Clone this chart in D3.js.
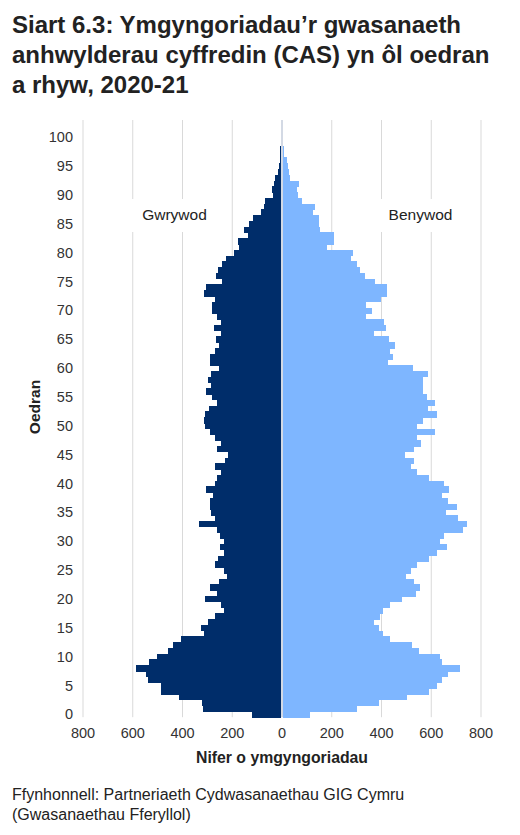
<!DOCTYPE html>
<html>
<head>
<meta charset="utf-8">
<script src="https://cdn.jsdelivr.net/npm/d3@7"></script>
<style>
  body { margin: 0; background: #fff; }
  svg { font-family: "Liberation Sans", Arial, sans-serif; }
  .bar { shape-rendering: crispEdges; }
</style>
</head>
<body>
<div id="chart"></div>
<script>
// ages 0..100
var ages = d3.range(0, 101);

// Gwrywod (male), counts by age 0..100
var male = [119, 317, 321, 416, 485, 488, 539, 548, 587, 535,
  502, 459, 440, 405, 312, 324, 298, 270, 234, 247,
  310, 261, 288, 254, 221, 234, 268, 258, 234, 250,
  234, 250, 261, 334, 270, 285, 288, 288, 278, 305,
  270, 261, 247, 268, 230, 218, 261, 247, 270, 288,
  310, 312, 310, 294, 261, 281, 304, 285, 298, 285,
  254, 291, 288, 268, 254, 264, 247, 272, 247, 261,
  281, 281, 268, 314, 305, 241, 267, 257, 241, 225,
  194, 171, 177, 136, 154, 134, 116, 83, 71, 67,
  36, 40, 33, 29, 17, 13, 7, 9, 8, 2,
  5];

// Benywod (female), counts by age 0..100
var female = [111, 301, 388, 502, 589, 622, 642, 666, 716, 642,
  635, 549, 522, 435, 405, 388, 368, 395, 405, 435,
  482, 538, 555, 531, 498, 517, 542, 591, 622, 662,
  635, 653, 729, 742, 706, 660, 702, 666, 645, 672,
  651, 589, 544, 519, 531, 495, 531, 559, 542, 615,
  542, 566, 622, 586, 615, 582, 565, 565, 565, 586,
  526, 428, 446, 435, 454, 431, 371, 419, 411, 338,
  361, 337, 399, 421, 421, 372, 334, 314, 301, 277,
  284, 181, 210, 210, 151, 148, 148, 124, 131, 80,
  64, 60, 67, 33, 28, 23, 20, 9, 7, 3,
  5];

var xTicks = [-800, -600, -400, -200, 0, 200, 400, 600, 800];
var yTicks = [0, 5, 10, 15, 20, 25, 30, 35, 40, 45, 50, 55, 60, 65, 70, 75, 80, 85, 90, 95, 100];

var W = 520, H = 835;
var plotLeft = 83, plotRight = 481, plotTop = 134.4, plotBottom = 717.2;

var svg = d3.select('#chart').append('svg')
    .attr('width', W)
    .attr('height', H);

var x = d3.scaleLinear().domain([-800, 800]).range([plotLeft, plotRight]);
var y = d3.scaleBand().domain(ages.slice().reverse()).range([plotTop, plotBottom]).padding(0);

// title
var title = svg.append('text')
    .attr('x', 12)
    .attr('y', 33)
    .style('font-size', '24px')
    .style('font-weight', 'bold')
    .style('fill', '#222');
title.append('tspan').attr('x', 12).attr('dy', 0).text('Siart 6.3: Ymgyngoriadau\u2019r gwasanaeth');
title.append('tspan').attr('x', 12).attr('dy', 30).text('anhwylderau cyffredin (CAS) yn ôl oedran');
title.append('tspan').attr('x', 12).attr('dy', 30).text('a rhyw, 2020-21');

// gridlines
svg.append('g').selectAll('line')
    .data(xTicks.filter(function(d) { return d != 0; }))
  .enter().append('line')
    .attr('x1', function(d) { return x(d); })
    .attr('x2', function(d) { return x(d); })
    .attr('y1', 120)
    .attr('y2', plotBottom)
    .style('stroke', '#d9d9d9')
    .style('stroke-width', 1);

// bars (a hair taller than the band so no seams show)
svg.append('g').selectAll('rect')
    .data(ages)
  .enter().append('rect')
    .attr('class', 'bar')
    .attr('x', function(d) { return x(-male[d]); })
    .attr('y', function(d) { return y(d); })
    .attr('width', function(d) { return Math.max(0, x(0) - x(-male[d]) - 1); })
    .attr('height', y.bandwidth() + 0.6)
    .style('fill', '#002d6a');

svg.append('g').selectAll('rect')
    .data(ages)
  .enter().append('rect')
    .attr('class', 'bar')
    .attr('x', x(0) + 1)
    .attr('y', function(d) { return y(d); })
    .attr('width', function(d) { return Math.max(0, x(female[d]) - x(0) - 1); })
    .attr('height', y.bandwidth() + 0.6)
    .style('fill', '#7eb6ff');

// zero line
svg.append('line')
    .attr('x1', x(0)).attr('x2', x(0))
    .attr('y1', 120).attr('y2', plotBottom)
    .style('stroke', '#d3d9e4')
    .style('stroke-width', 2);

// series labels in white boxes
var labels = [{text: 'Gwrywod', cx: 174.5}, {text: 'Benywod', cx: 420.5}];
labels.forEach(function(l) {
  svg.append('rect')
      .attr('x', l.cx - 46).attr('y', 199)
      .attr('width', 92).attr('height', 33)
      .style('fill', '#fff');
  svg.append('text')
      .attr('x', l.cx).attr('y', 220)
      .attr('text-anchor', 'middle')
      .style('font-size', '15.5px')
      .style('fill', '#222')
      .text(l.text);
});

// y tick labels
svg.append('g').selectAll('text')
    .data(yTicks)
  .enter().append('text')
    .attr('x', 73)
    .attr('y', function(d) { return y(d) + y.bandwidth() / 2; })
    .attr('dy', '0.35em')
    .attr('text-anchor', 'end')
    .style('font-size', '14.5px')
    .style('fill', '#333')
    .text(function(d) { return d; });

// x tick labels
svg.append('g').selectAll('text')
    .data(xTicks)
  .enter().append('text')
    .attr('x', function(d) { return x(d); })
    .attr('y', 738)
    .attr('text-anchor', 'middle')
    .style('font-size', '14.5px')
    .style('fill', '#333')
    .text(function(d) { return Math.abs(d); });

// axis titles
svg.append('text')
    .attr('x', x(0))
    .attr('y', 763)
    .attr('text-anchor', 'middle')
    .style('font-size', '15.8px')
    .style('font-weight', 'bold')
    .style('fill', '#222')
    .text('Nifer o ymgyngoriadau');

svg.append('text')
    .attr('transform', 'translate(40,407) rotate(-90)')
    .attr('text-anchor', 'middle')
    .style('font-size', '15.5px')
    .style('font-weight', 'bold')
    .style('fill', '#222')
    .text('Oedran');

// source
var src = svg.append('text')
    .attr('x', 12)
    .attr('y', 800)
    .style('font-size', '16px')
    .style('fill', '#222');
src.append('tspan').attr('x', 12).attr('dy', 0).text('Ffynhonnell: Partneriaeth Cydwasanaethau GIG Cymru');
src.append('tspan').attr('x', 12).attr('dy', 20).text('(Gwasanaethau Fferyllol)');
</script>
</body>
</html>
